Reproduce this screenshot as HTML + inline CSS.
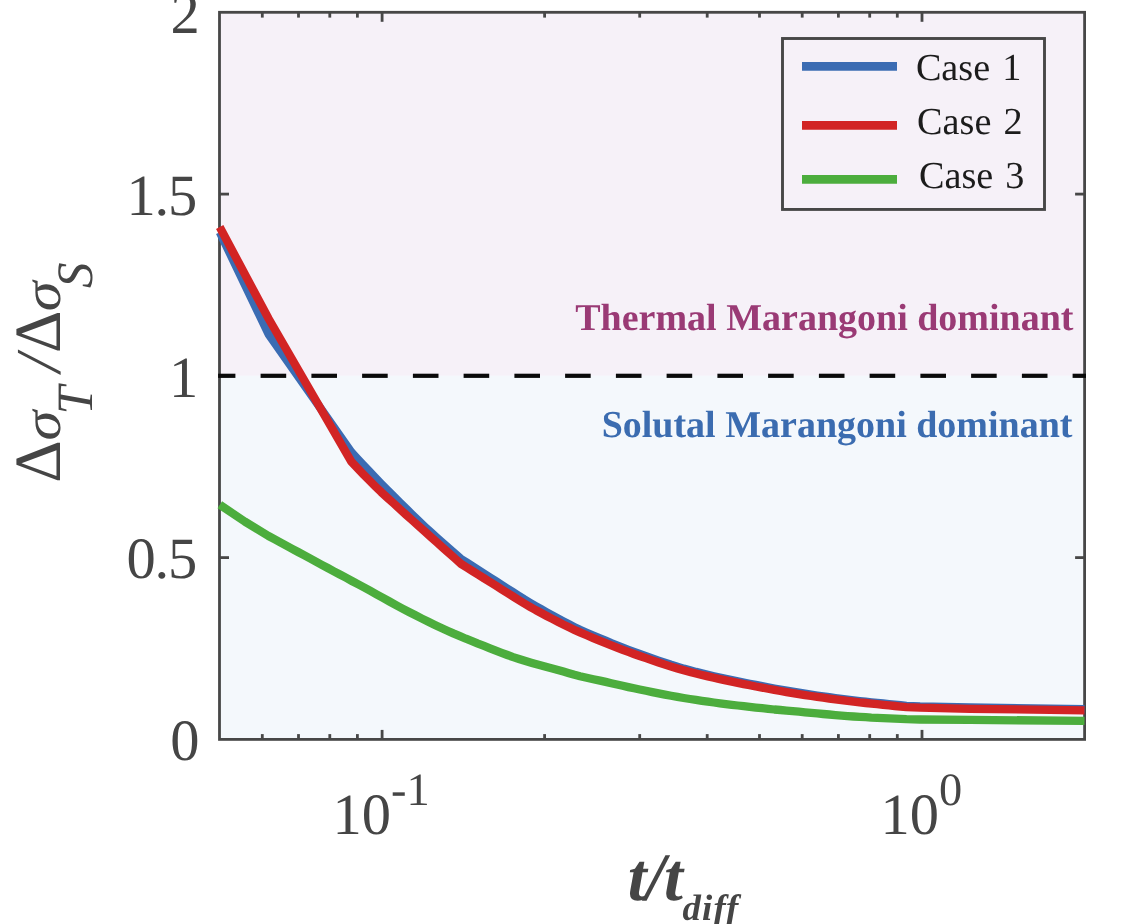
<!DOCTYPE html>
<html lang="en"><head><meta charset="utf-8"><title>Marangoni ratio</title>
<style>html,body{margin:0;padding:0;background:#fff;}body{width:1145px;height:924px;overflow:hidden;}svg{display:block;will-change:transform;}text{font-family:"Liberation Serif","Times New Roman",serif;text-rendering:geometricPrecision;}</style></head><body>
<svg width="1145" height="924" viewBox="0 0 1145 924">
<rect x="0" y="0" width="1145" height="924" fill="#ffffff"/>
<rect x="219.5" y="12.3" width="865.1" height="363.5" fill="#f6f1f8"/>
<rect x="219.5" y="375.8" width="865.1" height="363.6" fill="#f4f8fc"/>
<g stroke="#474747" stroke-width="2.8" fill="none">
<rect x="219.5" y="12.3" width="865.1" height="727.1"/>
<line x1="262.3" y1="739.4" x2="262.3" y2="734.1"/>
<line x1="262.3" y1="12.3" x2="262.3" y2="17.6"/>
<line x1="298.5" y1="739.4" x2="298.5" y2="734.1"/>
<line x1="298.5" y1="12.3" x2="298.5" y2="17.6"/>
<line x1="329.8" y1="739.4" x2="329.8" y2="734.1"/>
<line x1="329.8" y1="12.3" x2="329.8" y2="17.6"/>
<line x1="357.4" y1="739.4" x2="357.4" y2="734.1"/>
<line x1="357.4" y1="12.3" x2="357.4" y2="17.6"/>
<line x1="382.1" y1="739.4" x2="382.1" y2="729.9"/>
<line x1="382.1" y1="12.3" x2="382.1" y2="21.8"/>
<line x1="544.6" y1="739.4" x2="544.6" y2="734.1"/>
<line x1="544.6" y1="12.3" x2="544.6" y2="17.6"/>
<line x1="639.7" y1="739.4" x2="639.7" y2="734.1"/>
<line x1="639.7" y1="12.3" x2="639.7" y2="17.6"/>
<line x1="707.2" y1="739.4" x2="707.2" y2="734.1"/>
<line x1="707.2" y1="12.3" x2="707.2" y2="17.6"/>
<line x1="759.5" y1="739.4" x2="759.5" y2="734.1"/>
<line x1="759.5" y1="12.3" x2="759.5" y2="17.6"/>
<line x1="802.2" y1="739.4" x2="802.2" y2="734.1"/>
<line x1="802.2" y1="12.3" x2="802.2" y2="17.6"/>
<line x1="838.4" y1="739.4" x2="838.4" y2="734.1"/>
<line x1="838.4" y1="12.3" x2="838.4" y2="17.6"/>
<line x1="869.7" y1="739.4" x2="869.7" y2="734.1"/>
<line x1="869.7" y1="12.3" x2="869.7" y2="17.6"/>
<line x1="897.3" y1="739.4" x2="897.3" y2="734.1"/>
<line x1="897.3" y1="12.3" x2="897.3" y2="17.6"/>
<line x1="922.0" y1="739.4" x2="922.0" y2="729.9"/>
<line x1="922.0" y1="12.3" x2="922.0" y2="21.8"/>
<line x1="219.5" y1="557.6" x2="229.0" y2="557.6"/>
<line x1="1084.6" y1="557.6" x2="1075.1" y2="557.6"/>
<line x1="219.5" y1="375.8" x2="229.0" y2="375.8"/>
<line x1="1084.6" y1="375.8" x2="1075.1" y2="375.8"/>
<line x1="219.5" y1="194.1" x2="229.0" y2="194.1"/>
<line x1="1084.6" y1="194.1" x2="1075.1" y2="194.1"/>
</g>
<g stroke="#0a0a0a" stroke-width="4.2">
<line x1="218.1" y1="375.8" x2="235.4" y2="375.8"/>
<line x1="260.6" y1="375.8" x2="286.2" y2="375.8"/>
<line x1="311.4" y1="375.8" x2="337.0" y2="375.8"/>
<line x1="362.1" y1="375.8" x2="387.7" y2="375.8"/>
<line x1="412.9" y1="375.8" x2="438.5" y2="375.8"/>
<line x1="463.6" y1="375.8" x2="489.2" y2="375.8"/>
<line x1="514.4" y1="375.8" x2="540.0" y2="375.8"/>
<line x1="565.1" y1="375.8" x2="590.7" y2="375.8"/>
<line x1="615.9" y1="375.8" x2="641.5" y2="375.8"/>
<line x1="666.6" y1="375.8" x2="692.2" y2="375.8"/>
<line x1="717.4" y1="375.8" x2="743.0" y2="375.8"/>
<line x1="768.1" y1="375.8" x2="793.7" y2="375.8"/>
<line x1="818.9" y1="375.8" x2="844.5" y2="375.8"/>
<line x1="869.6" y1="375.8" x2="895.2" y2="375.8"/>
<line x1="920.4" y1="375.8" x2="946.0" y2="375.8"/>
<line x1="971.1" y1="375.8" x2="996.7" y2="375.8"/>
<line x1="1021.9" y1="375.8" x2="1047.5" y2="375.8"/>
<line x1="1072.6" y1="375.8" x2="1086.0" y2="375.8"/>
</g>
<polyline points="219.8,232.3 268.5,334.0 351.3,452.1 357.2,458.5 363.1,464.8 369.1,471.2 375.0,477.4 381.2,483.8 387.5,490.1 393.8,496.4 400.0,502.6 406.2,508.8 412.5,514.9 418.8,521.0 425.0,526.9 431.0,532.4 437.0,537.8 443.0,543.1 449.0,548.3 455.0,553.6 461.0,558.9 466.8,562.6 472.6,566.3 478.4,570.0 484.2,573.7 490.0,577.4 495.7,581.1 501.4,584.7 507.1,588.4 512.9,592.1 518.6,595.7 524.3,599.3 530.0,602.7 535.6,606.0 541.2,609.2 546.7,612.3 552.3,615.4 557.9,618.4 563.4,621.4 569.0,624.3 574.5,627.1 580.0,629.8 586.7,632.8 593.3,635.6 600.0,638.4 605.7,640.7 611.3,643.1 617.0,645.3 622.7,647.6 628.4,649.8 634.0,651.9 639.7,654.0 646.0,656.2 652.3,658.4 658.6,660.6 664.9,662.7 671.1,664.8 677.4,666.7 683.7,668.6 690.0,670.3 696.0,671.9 701.9,673.3 707.9,674.8 713.9,676.2 719.9,677.5 725.8,678.8 731.8,680.1 737.8,681.3 743.7,682.5 749.7,683.7 755.8,684.9 762.0,686.1 768.1,687.3 774.3,688.5 780.4,689.6 786.6,690.7 792.7,691.7 798.9,692.7 805.0,693.7 811.1,694.6 817.2,695.5 823.2,696.4 829.3,697.2 835.4,698.0 841.5,698.8 847.5,699.6 853.6,700.3 859.7,701.0 865.6,701.7 871.4,702.3 877.2,702.9 883.1,703.5 889.0,704.1 894.8,704.6 900.6,705.2 906.5,705.8 920.0,706.4 970.0,707.5 1084.5,709.2" fill="none" stroke="#3b6cb3" stroke-width="8.3" stroke-linejoin="round" stroke-linecap="butt"/>
<polyline points="219.7,227.0 268.5,318.5 351.3,461.7 357.2,467.9 363.1,474.1 369.1,480.2 375.0,486.1 381.2,492.1 387.5,497.8 393.8,503.5 400.0,509.2 406.2,514.9 412.5,520.5 418.8,526.1 425.0,531.7 431.0,537.1 437.0,542.4 443.0,547.8 449.0,553.2 455.0,558.5 461.0,563.9 466.8,567.5 472.6,571.1 478.4,574.8 484.2,578.4 490.0,582.0 495.7,585.6 501.4,589.2 507.1,592.8 512.9,596.4 518.6,600.0 524.3,603.5 530.0,606.8 535.6,610.0 541.2,613.0 546.7,616.0 552.3,618.9 557.9,621.8 563.4,624.6 569.0,627.3 574.5,629.9 580.0,632.4 586.7,635.3 593.3,638.1 600.0,640.8 605.7,643.1 611.3,645.3 617.0,647.6 622.7,649.8 628.4,651.9 634.0,654.0 639.7,656.0 646.0,658.2 652.3,660.4 658.6,662.5 664.9,664.6 671.1,666.6 677.4,668.5 683.7,670.3 690.0,672.0 696.0,673.5 701.9,675.0 707.9,676.4 713.9,677.8 719.9,679.1 725.8,680.4 731.8,681.6 737.8,682.9 743.7,684.1 749.7,685.2 755.8,686.5 762.0,687.6 768.1,688.8 774.3,689.9 780.4,691.0 786.6,692.1 792.7,693.1 798.9,694.1 805.0,695.1 811.1,696.0 817.2,696.9 823.2,697.7 829.3,698.6 835.4,699.4 841.5,700.2 847.5,700.9 853.6,701.6 859.7,702.4 865.6,703.0 871.4,703.6 877.2,704.2 883.1,704.8 889.0,705.4 894.8,706.0 900.6,706.6 906.5,707.1 920.0,707.7 970.0,708.8 1084.5,710.4" fill="none" stroke="#d22424" stroke-width="8.3" stroke-linejoin="round" stroke-linecap="butt"/>
<polyline points="219.8,504.8 244.9,521.6 268.5,536.0 274.4,539.2 280.3,542.4 286.3,545.6 292.2,548.8 298.1,552.0 304.0,555.2 310.0,558.4 315.9,561.6 321.8,564.8 327.8,568.0 333.9,571.3 339.9,574.5 345.9,577.7 351.9,581.0 357.9,584.2 364.0,587.4 370.0,590.7 376.5,594.3 383.0,597.9 389.5,601.5 396.0,605.1 402.5,608.6 409.0,612.0 415.5,615.3 422.0,618.6 428.4,621.8 434.9,624.9 441.4,627.9 447.9,630.9 453.9,633.6 459.9,636.1 465.9,638.7 472.0,641.1 478.0,643.6 484.0,645.9 490.0,648.3 495.8,650.6 501.6,652.8 507.4,655.0 513.2,657.1 519.0,659.0 525.5,661.0 532.0,662.9 538.5,664.7 544.9,666.5 551.4,668.2 557.9,670.0 563.4,671.6 569.0,673.2 574.5,674.8 580.0,676.2 586.7,677.7 593.3,679.2 600.0,680.6 605.7,681.9 611.3,683.2 617.0,684.5 622.7,685.8 628.4,687.1 634.0,688.3 639.7,689.5 646.0,690.8 652.3,692.1 658.6,693.3 664.9,694.6 671.1,695.8 677.4,696.9 683.7,698.0 690.0,699.0 696.0,699.9 701.9,700.8 707.9,701.7 713.9,702.5 719.9,703.3 725.8,704.1 731.8,704.8 737.8,705.5 743.7,706.2 749.7,706.9 755.8,707.6 762.0,708.2 768.1,708.8 774.3,709.5 780.4,710.0 786.6,710.6 792.7,711.2 798.9,711.7 805.0,712.3 811.1,712.9 817.2,713.4 823.2,714.0 829.3,714.5 835.4,715.1 841.5,715.6 847.5,716.1 853.6,716.5 859.7,716.9 865.6,717.2 871.4,717.6 877.2,717.8 883.1,718.1 889.0,718.4 894.8,718.7 900.6,718.9 906.5,719.2 920.0,719.5 970.0,719.9 1084.5,720.8" fill="none" stroke="#4cad3d" stroke-width="8.3" stroke-linejoin="round" stroke-linecap="butt"/>
<rect x="782.5" y="38.5" width="262" height="170.95" fill="#f6f1f8" stroke="#474747" stroke-width="2.9"/>
<line x1="802" y1="66.4" x2="897" y2="66.4" stroke="#3b6cb3" stroke-width="8.6"/>
<line x1="802" y1="125.4" x2="897" y2="125.4" stroke="#d22424" stroke-width="8.6"/>
<line x1="802" y1="179.4" x2="897" y2="179.4" stroke="#4cad3d" stroke-width="8.6"/>
<text x="915.9" y="80.0" font-size="38.2" fill="#1c1c1c">Case <tspan dx="2.5">1</tspan></text>
<text x="917.1" y="133.6" font-size="38.2" fill="#1c1c1c">Case <tspan dx="2.5">2</tspan></text>
<text x="919.0" y="188.4" font-size="38.2" fill="#1c1c1c">Case <tspan dx="2.5">3</tspan></text>
<text x="1073.5" y="330" font-size="38" font-weight="bold" text-anchor="end" fill="#9a3a75">Thermal Marangoni dominant</text>
<text x="1072.5" y="437" font-size="38" font-weight="bold" text-anchor="end" fill="#3b6cb0">Solutal Marangoni dominant</text>
<text x="199.6" y="760.2" font-size="58.5" text-anchor="end" fill="#454545">0</text>
<text x="196.0" y="578.4" font-size="58.5" text-anchor="end" letter-spacing="-1.2" fill="#454545">0.5</text>
<text x="198.2" y="396.6" font-size="58.5" text-anchor="end" fill="#454545">1</text>
<text x="196.0" y="214.9" font-size="58.5" text-anchor="end" letter-spacing="-1.2" fill="#454545">1.5</text>
<text x="199.8" y="33.1" font-size="58.5" text-anchor="end" fill="#454545">2</text>
<text x="332.5" y="833.9" font-size="58.5" fill="#454545">10</text>
<text x="391" y="804.9" font-size="46.4" fill="#454545">-1</text>
<text x="880.4" y="833.9" font-size="58.5" fill="#454545">10</text>
<text x="938.9" y="804.9" font-size="46.4" fill="#454545">0</text>
<text x="627.8" y="899.8" font-size="68" font-style="italic" font-weight="bold" letter-spacing="-0.8" fill="#454545">t/t</text>
<text x="682.6" y="920.3" font-size="36.8" font-style="italic" font-weight="bold" letter-spacing="1.1" fill="#454545">diff</text>
<g transform="translate(60.3,481.0) rotate(-90)" fill="#454545">
<text x="-1.8" y="0.0" font-size="66" >Δ</text>
<text transform="translate(40.5,0) scale(0.95,0.84)" font-size="63.8" font-style="italic">σ</text>
<text x="66.5" y="31.6" font-size="51" font-style="italic">T</text>
<text x="109.0" y="0.0" font-size="63.8" font-style="italic">/</text>
<text x="127.9" y="0.0" font-size="66" >Δ</text>
<text transform="translate(169.8,0) scale(0.95,0.84)" font-size="63.8" font-style="italic">σ</text>
<text x="193.0" y="31.6" font-size="51" font-style="italic">S</text>
</g>
</svg></body></html>
